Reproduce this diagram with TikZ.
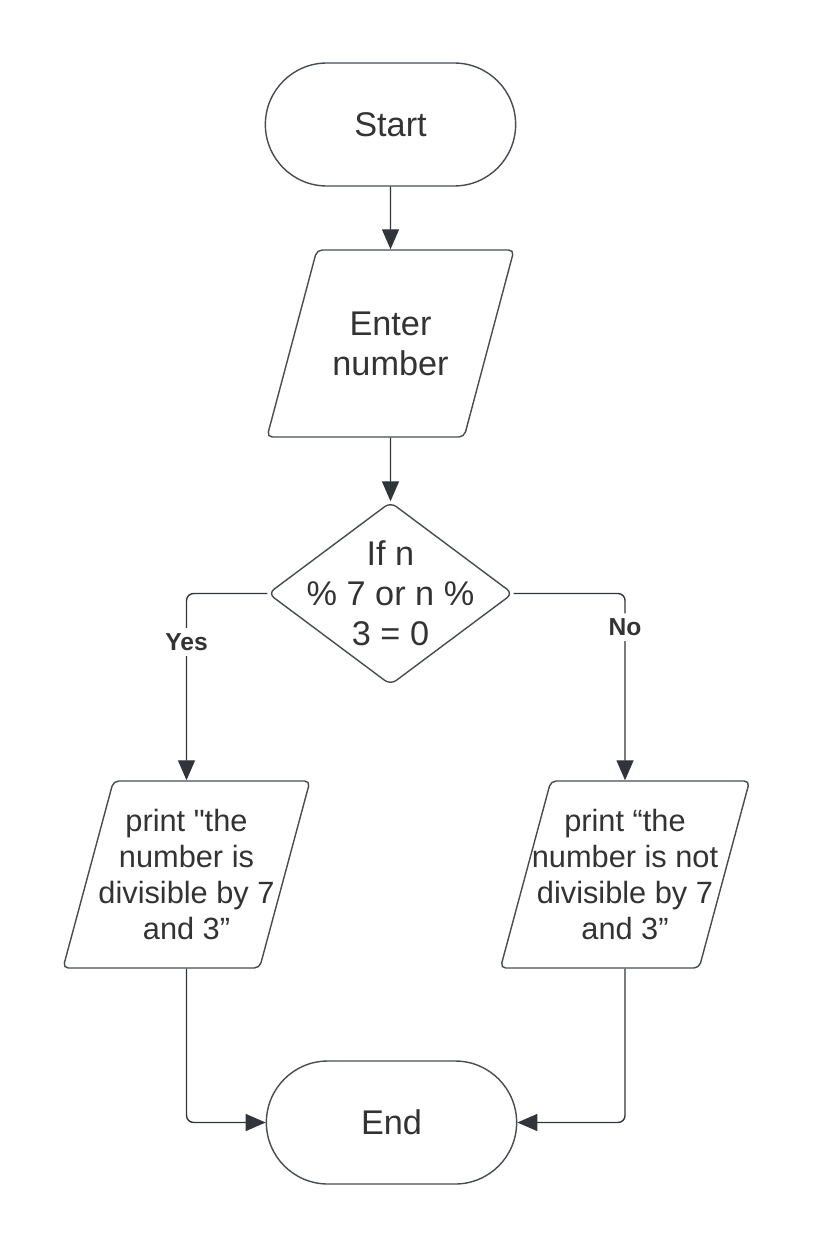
\documentclass[tikz,border=0pt]{standalone}
\usepackage{fontspec}
\setmainfont{Liberation Sans}
\usetikzlibrary{arrows.meta,shapes.geometric,shapes.misc}

\definecolor{edge}{HTML}{474C52}
\definecolor{ink}{HTML}{333333}
\definecolor{tip}{HTML}{2F353B}

\begin{document}
\begin{tikzpicture}[
  font=\fontsize{19.5}{22.7}\selectfont,
  text=ink,
  terminal/.style={
    draw=edge,
    line width=0.8pt,
    rounded rectangle,
    minimum width=5.24cm,
    minimum height=2.46cm,
    fill=white
  },
  io/.style={
    draw=edge,
    line width=0.8pt,
    trapezium,
    trapezium left angle=#1,
    trapezium right angle=180-#1,
    trapezium stretches body=true,
    minimum width=4.94cm,
    minimum height=3.74cm,
    inner sep=0pt,
    rounded corners=3pt,
    align=center,
    fill=white
  },
  printout/.style={
    io=68.9,
    inner xsep=-0.38cm,
    font=\fontsize{17.5}{20.5}\selectfont
  },
  decision/.style={
    draw=edge,
    line width=0.8pt,
    diamond,
    minimum width=4.9cm,
    minimum height=3.66cm,
    inner sep=-0.8cm,
    rounded corners=4pt,
    align=center,
    fill=white
  },
  flow/.style={-{Triangle[length=0.4cm,width=0.34cm]}, draw=edge, color=tip, line width=0.8pt, rounded corners=4pt},
  branch/.style={fill=white, inner sep=3pt, font=\fontsize{14}{16}\selectfont\bfseries}
]
\useasboundingbox (0,0) rectangle (16.26,-25);

% Main flow
\node[terminal] (start) at (7.81,-2.49) {Start};

\node[io=52] (input) at (7.81,-6.87) {Enter\\number};

\node[decision] (cond) at (7.81,-11.87) {If n\\\% 7 or n \%\\3 = 0};

% Outputs
\node[printout] (yesout) at (3.73,-17.49) {%
  print \textquotedbl the\\
  number is\\
  divisible by 7\\
  and 3”};

\node[printout] (noout) at (12.5,-17.49) {%
  print “the\\
  number is not\\
  divisible by 7\\
  and 3”};

\node[terminal] (finish) at (7.83,-22.45) {End};

% Flow arrows
\draw[flow] (start) -- (input);
\draw[flow] (input) -- (cond);
\draw[flow] (cond.west) -| node[branch, pos=0.63, text=ink] {Yes} (yesout.north);
\draw[flow] (cond.east) -| node[branch, pos=0.59, text=ink] {No} (noout.north);

% Merge into End
\draw[flow] (yesout.south) |- (finish.west);
\draw[flow] (noout.south) |- (finish.east);

\end{tikzpicture}
\end{document}
